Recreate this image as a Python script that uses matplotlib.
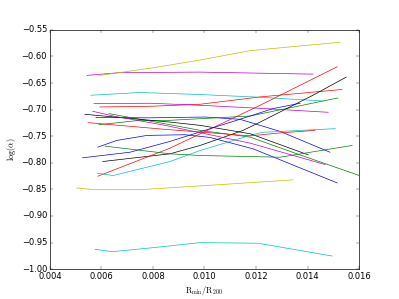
import matplotlib
matplotlib.use('Agg')
from matplotlib import pyplot as plt

# one entry per curve: (colour, x values, log(alpha) values)
blue_1_x = [0.00579, 0.00788, 0.01002, 0.01138, 0.01293, 0.01487]
blue_1_y = [-0.7150, -0.7154, -0.7139, -0.7182, -0.7409, -0.7801]
blue_2_x = [0.00586, 0.00660, 0.00777, 0.00924, 0.01021, 0.01188, 0.01515]
blue_2_y = [-0.7706, -0.7579, -0.7485, -0.7472, -0.7523, -0.7736, -0.8379]
blue_3_x = [0.00527, 0.00711, 0.00866, 0.01177, 0.01266, 0.01371]
blue_3_y = [-0.7906, -0.7801, -0.7598, -0.7120, -0.6980, -0.6880]

green_1_x = [0.00590, 0.00750, 0.00866, 0.01177, 0.01518]
green_1_y = [-0.7283, -0.7201, -0.7201, -0.7120, -0.6780]
green_2_x = [0.00629, 0.00866, 0.00983, 0.01177, 0.01371, 0.01604]
green_2_y = [-0.7075, -0.7283, -0.7390, -0.7517, -0.7852, -0.8245]
green_3_x = [0.00614, 0.00866, 0.00983, 0.01293, 0.01573]
green_3_y = [-0.7687, -0.7831, -0.7863, -0.7895, -0.7674]

red_1_x = [0.00594, 0.00788, 0.00983, 0.01216, 0.01534]
red_1_y = [-0.6950, -0.6937, -0.6899, -0.6761, -0.6621]
red_2_x = [0.00586, 0.00866, 0.01216, 0.01515]
red_2_y = [-0.8253, -0.7725, -0.6918, -0.6194]
red_3_x = [0.00548, 0.00847, 0.01177, 0.01293, 0.01429]
red_3_y = [-0.7245, -0.7371, -0.7494, -0.7438, -0.7390]

cyan_1_x = [0.00559, 0.00750, 0.00983, 0.01216, 0.01460]
cyan_1_y = [-0.6729, -0.6678, -0.6716, -0.6767, -0.6837]
cyan_2_x = [0.00584, 0.00645, 0.00866, 0.00983, 0.01177, 0.01223, 0.01507]
cyan_2_y = [-0.8196, -0.8240, -0.7976, -0.7769, -0.7485, -0.7428, -0.7358]
cyan_3_x = [0.00575, 0.00641, 0.00800, 0.00983, 0.01208, 0.01495]
cyan_3_y = [-0.9627, -0.9672, -0.9597, -0.9502, -0.9513, -0.9754]

magenta_1_x = [0.00544, 0.00672, 0.00983, 0.01421]
magenta_1_y = [-0.6356, -0.6303, -0.6294, -0.6332]
magenta_2_x = [0.00571, 0.00788, 0.00983, 0.01216, 0.01480]
magenta_2_y = [-0.6886, -0.6880, -0.6918, -0.6975, -0.7050]
magenta_3_x = [0.00566, 0.00645, 0.00847, 0.01177, 0.01468]
magenta_3_y = [-0.7031, -0.7120, -0.7296, -0.7630, -0.8033]

yellow_1_x = [0.00594, 0.00800, 0.00983, 0.01177, 0.01371, 0.01526]
yellow_1_y = [-0.6356, -0.6213, -0.6067, -0.5891, -0.5802, -0.5733]
yellow_2_x = [0.00505, 0.00575, 0.00750, 0.01060, 0.01344]
yellow_2_y = [-0.8474, -0.8506, -0.8506, -0.8411, -0.8321]

black_1_x = [0.00605, 0.00866, 0.00983, 0.01150, 0.01216, 0.01421, 0.01550]
black_1_y = [-0.7976, -0.7831, -0.7674, -0.7390, -0.7234, -0.6729, -0.6388]
black_2_x = [0.00536, 0.00866, 0.00983, 0.01177, 0.01402]
black_2_y = [-0.7088, -0.7234, -0.7296, -0.7453, -0.7850]

curves = [
    ('b', blue_1_x, blue_1_y), ('g', green_1_x, green_1_y), ('r', red_1_x, red_1_y),
    ('c', cyan_1_x, cyan_1_y), ('m', magenta_1_x, magenta_1_y), ('y', yellow_1_x, yellow_1_y),
    ('k', black_1_x, black_1_y),
    ('b', blue_2_x, blue_2_y), ('g', green_2_x, green_2_y), ('r', red_2_x, red_2_y),
    ('c', cyan_2_x, cyan_2_y), ('m', magenta_2_x, magenta_2_y), ('y', yellow_2_x, yellow_2_y),
    ('k', black_2_x, black_2_y),
    ('b', blue_3_x, blue_3_y), ('g', green_3_x, green_3_y), ('r', red_3_x, red_3_y),
    ('c', cyan_3_x, cyan_3_y), ('m', magenta_3_x, magenta_3_y),
]

plt.style.use('classic')
fig, ax = plt.subplots(figsize=(7.98, 5.98), dpi=50)

for col, x, y in curves:
    ax.plot(x, y, color=col)

ax.set_xlim(0.004, 0.016)
ax.set_ylim(-1.0, -0.55)
ax.set_xticks([0.004, 0.006, 0.008, 0.010, 0.012, 0.014, 0.016])
ax.set_xlabel(r'$\mathrm{R_{min}/R_{200}}$')
ax.set_ylabel(r'$\mathrm{log(\alpha)}$')

fig.savefig('out.png', dpi=50)
